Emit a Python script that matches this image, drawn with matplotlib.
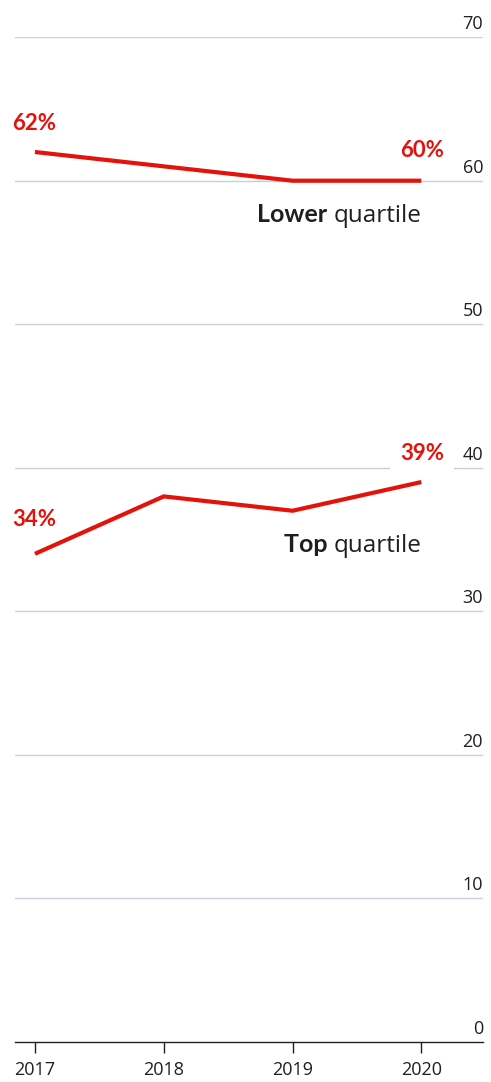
import numpy as np
import matplotlib.pyplot as plt
import matplotlib.transforms as mtransforms

plt.rcParams["font.family"] = ["Open Sans", "DejaVu Sans"]

# 資料
years = [2017, 2018, 2019, 2020]
lower_quartile = [62, 61, 60, 60]
top_quartile = [34, 38, 37, 39]
y_ticks = [0, 10, 20, 30, 40, 50, 60, 70]

red = "#e3120b"
grid_color = "#c6d1db"
dark = "#1f1f1f"
bold_font = ["Lato", "DejaVu Sans"]

fig = plt.figure(figsize=(4.91, 10.82), dpi=100)
ax = fig.add_axes([15 / 491, 40.3 / 1082, 468 / 491, 1004.5 / 1082])
ax.set_xlim(2016.845, 2020.479)
ax.set_ylim(0, 70)

# 網格線
for v in y_ticks[1:]:
    ax.axhline(v, color=grid_color, lw=1.0, zorder=1)

# 資料線
ax.plot(years, lower_quartile, color=red, lw=3.0, zorder=3, solid_capstyle="butt")
ax.plot(years, top_quartile, color=red, lw=3.0, zorder=3, solid_capstyle="butt")

# 右側 y 軸數字
trans = mtransforms.blended_transform_factory(ax.transAxes, ax.transData)
offset = mtransforms.offset_copy(trans, fig=fig, x=0, y=8, units="dots")
for v in y_ticks:
    ax.text(1.0, v, str(v), transform=offset, ha="right", va="baseline",
            fontsize=13, color=dark, clip_on=False)

# 數值標籤
lbl = dict(color=red, fontsize=16, fontweight="bold", family=bold_font, zorder=4)
ax.annotate(f"{lower_quartile[0]}%", (years[0], lower_quartile[0]),
            xytext=(-23, 28), textcoords="offset pixels", ha="left", va="center", **lbl)
ax.annotate(f"{lower_quartile[-1]}%", (years[-1], lower_quartile[-1]),
            xytext=(23, 30), textcoords="offset pixels", ha="right", va="center", **lbl)
ax.annotate(f"{top_quartile[0]}%", (years[0], top_quartile[0]),
            xytext=(-23, 34), textcoords="offset pixels", ha="left", va="center", **lbl)
ax.annotate(f"{top_quartile[-1]}%", (years[-1], top_quartile[-1]),
            xytext=(23, 29), textcoords="offset pixels", ha="right", va="center",
            bbox=dict(boxstyle="square,pad=0.45", fc="white", ec="none"), **lbl)

# 系列名稱（粗體 + 一般字）
def series_name(bold, rest, y, dy):
    y_tr = mtransforms.offset_copy(ax.transData, fig=fig, x=0, y=dy, units="dots")
    t = ax.text(years[-1], y, rest, transform=y_tr, ha="right", va="baseline",
                fontsize=17.5, color=dark)
    ax.annotate(bold + " ", xy=(0, y), xycoords=(t, y_tr), ha="right", va="baseline",
                fontsize=18, fontweight="bold", family=bold_font, color=dark)

series_name("Lower", "quartile", lower_quartile[-1], -41)
series_name("Top", "quartile", top_quartile[-1], -70)

# 軸設定
for s in ["top", "right", "left"]:
    ax.spines[s].set_visible(False)
ax.spines["bottom"].set_color(dark)
ax.spines["bottom"].set_linewidth(1.0)
ax.set_xticks(years)
ax.set_xticklabels([str(y) for y in years])
ax.tick_params(axis="x", length=8, width=1, color=dark, labelsize=13,
               labelcolor=dark, pad=6)
ax.set_yticks([])

fig.savefig("out.png", dpi=100)
